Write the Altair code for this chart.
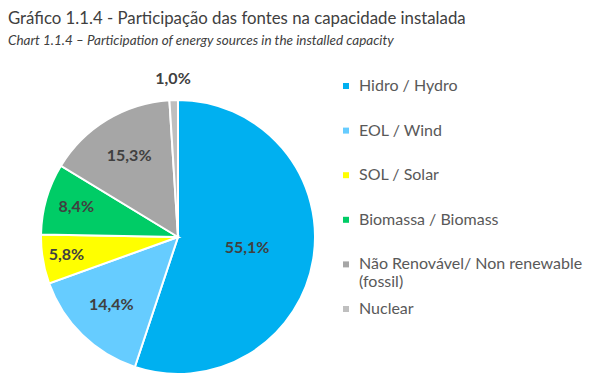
import altair as alt
import pandas as pd

categories = ["Hidro / Hydro", "EOL / Wind", "SOL / Solar", "Biomassa / Biomass",
              "Não Renovável/ Non renewable (fossil)", "Nuclear"]
values = [55.1, 14.4, 5.8, 8.4, 15.3, 1.0]
labels = ["55,1%", "14,4%", "5,8%", "8,4%", "15,3%", "1,0%"]
colors = ["#00B0F0", "#66CCFF", "#FFFF00", "#00CC66", "#A6A6A6", "#BFBFBF"]

df = pd.DataFrame({
    "cat": categories,
    "value": values,
    "label": labels,
    "order": list(range(len(categories))),
})

theta_scale = alt.Scale(domain=[0, 100])

arcs = alt.Chart(df).mark_arc(stroke="white", strokeWidth=2).encode(
    theta=alt.Theta("value:Q", stack=True, scale=theta_scale),
    order=alt.Order("order:Q"),
    color=alt.Color(
        "cat:N",
        scale=alt.Scale(domain=categories, range=colors),
        sort=categories,
        legend=alt.Legend(
            title=None,
            orient="none",
            legendX=297,
            legendY=-22,
            padding=0,
            symbolType="square",
            symbolSize=36,
            symbolStrokeWidth=0,
            labelFont="Lato",
            labelFontSize=16,
            labelColor="#595959",
            labelOffset=5,
            labelLimit=400,
            rowPadding=10.6,
            labelExpr="indexof(datum.label, ' (fossil)') > 0 ? [replace(datum.label, ' (fossil)', ''), '(fossil)'] : [datum.label, '']",
        ),
    ),
)

stacked = alt.Chart(df).transform_stack(
    stack="value", groupby=[], as_=["v0", "v1"], sort=[alt.SortField("order")]
).transform_calculate(mid="(datum.v0 + datum.v1) / 2")

inner = stacked.transform_filter("datum.value >= 2").mark_text(
    font="Lato", fontSize=16, fontWeight="bold", color="#404040"
).encode(
    theta=alt.Theta("mid:Q", stack=None, scale=theta_scale),
    radius=alt.Radius("value:Q", scale=alt.Scale(type="log", domain=[5.8, 55.1], range=[113, 70], clamp=True)),
    text="label:N",
)

outer = stacked.transform_filter("datum.value < 2").mark_text(
    font="Lato", fontSize=16, fontWeight="bold", color="#404040", radius=158
).encode(
    theta=alt.Theta("mid:Q", stack=None, scale=theta_scale),
    text="label:N",
)

chart = alt.layer(arcs, inner, outer).properties(
    width=274,
    height=274,
    padding={"left": 33, "top": 92, "right": 277, "bottom": 0},
    autosize=alt.AutoSizeParams(type="none"),
    title=alt.TitleParams(
        text="Gráfico 1.1.4 - Participação das fontes na capacidade instalada",
        subtitle="Chart 1.1.4 – Participation of energy sources in the installed capacity",
        anchor="start",
        frame="group",
        dx=-33,
        offset=24,
        font="Lato",
        fontSize=16.8,
        fontWeight="normal",
        color="#404040",
        subtitleFont="Lato",
        subtitleFontSize=13.5,
        subtitleFontStyle="italic",
        subtitleColor="#404040",
        subtitlePadding=6,
    ),
).configure_view(stroke=None)

chart.save("out.html", embed_options={"renderer": "svg", "actions": False})
